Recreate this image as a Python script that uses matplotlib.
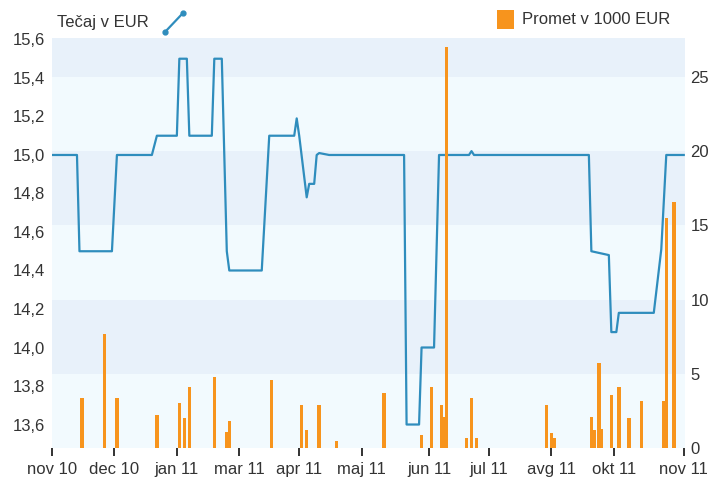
import matplotlib
matplotlib.use("Agg")
import matplotlib.pyplot as plt
import matplotlib.transforms as mtransforms
from matplotlib.lines import Line2D
from matplotlib.patches import Rectangle

# exchange rate (left axis) - x is position along the time axis
line_x = [0, 10, 11, 24, 26, 40, 42, 50, 51, 54, 55, 64, 65, 68, 70, 71, 84, 87,
          97, 98, 99, 102, 103, 105, 106, 107, 111, 141, 142, 147, 148, 153, 155,
          167, 168, 169, 215, 216, 223, 224, 226, 227, 241, 244, 246, 253]
line_y = [15.0, 15.0, 14.5, 14.5, 15.0, 15.0, 15.1, 15.1, 15.5, 15.5, 15.1, 15.1,
          15.5, 15.5, 14.5, 14.4, 14.4, 15.1, 15.1, 15.19, 15.1, 14.78, 14.85,
          14.85, 15.0, 15.01, 15.0, 15.0, 13.6, 13.6, 14.0, 14.0, 15.0, 15.0,
          15.02, 15.0, 15.0, 14.5, 14.48, 14.08, 14.08, 14.18, 14.18, 14.51,
          15.0, 15.0]

# turnover in 1000 EUR (right axis)
bar_x = [12, 21, 26, 42, 51, 53, 55, 65, 70, 71, 88, 100, 102, 107, 114, 133,
         148, 152, 156, 157, 158, 166, 168, 170, 198, 200, 201, 216, 217, 219,
         220, 224, 227, 231, 236, 245, 246, 249]
bar_v = [3.4, 7.7, 3.4, 2.2, 3.0, 2.0, 4.1, 4.8, 1.1, 1.8, 4.6, 2.9, 1.2, 2.9,
         0.5, 3.7, 0.9, 4.1, 2.9, 2.1, 27.0, 0.7, 3.4, 0.7, 2.9, 1.0, 0.7, 2.1,
         1.2, 5.7, 1.3, 3.6, 4.1, 2.0, 3.2, 3.2, 15.5, 16.6]

tick_pos = [0, 25, 50, 75, 99, 124, 151, 175, 200, 225, 253]
tick_labels = ['nov 10', 'dec 10', 'jan 11', 'mar 11', 'apr 11', 'maj 11',
               'jun 11', 'jul 11', 'avg 11', 'okt 11', 'nov 11']
left_ticks = [13.6, 13.8, 14.0, 14.2, 14.4, 14.6, 14.8, 15.0, 15.2, 15.4, 15.6]
right_ticks = [0, 5, 10, 15, 20, 25]
band_edges = [0, 5, 10, 15, 20, 25, 27.6]

plt.rcParams['font.family'] = ['Liberation Sans', 'DejaVu Sans']

line_color = '#2f8dbd'
bar_color = '#f7941d'
text_color = '#333333'

W, H = 712, 479
fig = plt.figure(figsize=(W / 100, H / 100), dpi=100)
ax = fig.add_axes([52 / W, (H - 448) / H, 633 / W, 409.5 / H])
ax_bar = ax.twinx()

ax.set_xlim(0, 253.5)
ax.set_ylim(13.478, 15.605)
ax_bar.set_ylim(0, 27.6)

# horizontal background bands, following the right axis
band_trans = mtransforms.blended_transform_factory(ax.transAxes, ax_bar.transData)
for i in range(len(band_edges) - 1):
    c = '#f2fafe' if i % 2 == 0 else '#e8f1fa'
    ax.add_patch(Rectangle((0, band_edges[i]), 1, band_edges[i + 1] - band_edges[i],
                           transform=band_trans, facecolor=c, lw=0, zorder=0))

ax.plot(line_x, line_y, color=line_color, lw=1.6, zorder=3)
ax_bar.bar(bar_x, bar_v, width=1.4, color=bar_color, zorder=3)

for a in (ax, ax_bar):
    for s in a.spines.values():
        s.set_visible(False)

ax.set_xticks(tick_pos)
ax.set_xticklabels(tick_labels)
ax.tick_params(axis='x', length=6, width=1.3, color='#222222', pad=4,
               labelsize=12, labelcolor=text_color)
ax.set_yticks(left_ticks)
ax.set_yticklabels([f'{v:.1f}'.replace('.', ',') for v in left_ticks])
ax.tick_params(axis='y', length=0, pad=5, labelsize=12, labelcolor=text_color)
ax_bar.set_yticks(right_ticks)
ax_bar.tick_params(axis='y', length=0, pad=4, labelsize=12, labelcolor=text_color)

# legends
fig.text(57 / W, 1 - 22 / H, 'Tečaj v EUR', ha='left', va='center',
         fontsize=12, color=text_color)
fig.add_artist(Line2D([165 / W, 183 / W], [1 - 32 / H, 1 - 13 / H],
                      transform=fig.transFigure, color=line_color, lw=1.6,
                      marker='o', ms=3.5))
fig.add_artist(Rectangle((497 / W, 1 - 29 / H), 17 / W, 19 / H,
                         transform=fig.transFigure, facecolor=bar_color, lw=0))
fig.text(522 / W, 1 - 20 / H, 'Promet v 1000 EUR', ha='left', va='center',
         fontsize=12, color=text_color)

fig.savefig('out.png', dpi=100)
